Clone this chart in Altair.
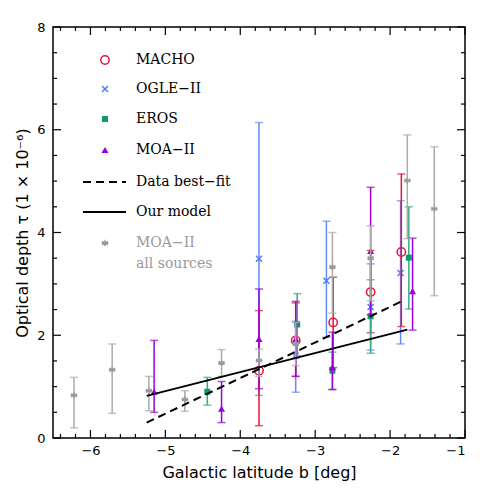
import altair as alt
import pandas as pd
import numpy as np

# ---------------- data ----------------
macho_b = [-3.75, -3.26, -2.76, -2.26, -1.85]
macho_tau = [1.31, 1.90, 2.25, 2.84, 3.62]
macho_lo = [0.24, 1.20, 1.37, 2.05, 2.17]
macho_hi = [2.48, 2.63, 3.13, 3.65, 5.14]

ogle_b = [-3.75, -3.26, -2.85, -2.26, -1.86]
ogle_tau = [3.49, 1.60, 3.06, 2.55, 3.21]
ogle_lo = [0.83, 0.89, 1.96, 1.71, 1.83]
ogle_hi = [6.14, 2.27, 4.22, 3.39, 4.62]

eros_b = [-4.44, -3.24, -2.77, -2.26, -1.75]
eros_tau = [0.90, 2.21, 1.31, 2.37, 3.51]
eros_lo = [0.64, 1.60, 0.95, 1.65, 2.51]
eros_hi = [1.18, 2.81, 1.67, 3.08, 4.50]

moa_b = [-5.15, -4.25, -3.75, -3.26, -2.77, -2.26, -1.70]
moa_tau = [0.90, 0.57, 1.93, 1.93, 1.38, 3.64, 2.86]
moa_lo = [0.50, 0.30, 0.96, 1.20, 0.94, 2.40, 2.10]
moa_hi = [1.90, 1.10, 2.90, 2.66, 2.06, 4.88, 3.89]

all_b = [-6.22, -5.71, -5.22, -4.74, -4.25, -3.75, -3.26, -2.77, -2.26, -1.77, -1.41]
all_tau = [0.83, 1.33, 0.92, 0.75, 1.46, 1.51, 1.83, 3.33, 3.50, 5.01, 4.46]
all_lo = [0.20, 0.48, 0.53, 0.52, 1.20, 1.20, 1.41, 2.43, 2.67, 3.88, 2.77]
all_hi = [1.18, 1.83, 1.20, 0.92, 1.72, 1.73, 2.25, 4.00, 4.13, 5.90, 5.67]

bestfit_b = [-5.25, -1.83]
bestfit_tau = [0.30, 2.67]
model_b = [-5.25, -1.77]
model_tau = [0.82, 2.11]

x_major = [-6, -5, -4, -3, -2, -1]
y_major = [0, 2, 4, 6, 8]

# ---------------- layout ----------------
W, H = 412, 411
xscale = alt.Scale(domain=[-6.5, -1], nice=False, zero=False)
yscale = alt.Scale(domain=[0, 8], nice=False, zero=False)

RED, BLUE, GREEN, PURPLE, GRAY = "#e8143a", "#4f7ef2", "#0f9a6e", "#9a00dc", "#9a9a9a"
BLUE_BAR, GREEN_BAR, GRAY_BAR = "#5f8cf4", "#3aa884", "#ababab"
XPATH = "M-1,-1L1,1M-1,1L1,-1"
STAR = "M0,-1L0,1M-0.87,-0.5L0.87,0.5M-0.87,0.5L0.87,-0.5M-1,0L1,0"

XAXIS = alt.Axis(values=x_major, title="Galactic latitude b [deg]", ticks=False, domain=False,
                 grid=False, labelPadding=6, titlePadding=7, labelFontSize=13,
                 titleFontSize=16, labelFont="DejaVu Sans", titleFont="DejaVu Sans",
                 titleFontWeight="normal", labelColor="black", titleColor="black")
YAXIS = alt.Axis(values=y_major, title="Optical depth  τ  (1 × 10⁻⁶)", ticks=False, domain=False,
                 grid=False, labelPadding=8, titlePadding=6, labelFontSize=13,
                 titleFontSize=16, labelFont="DejaVu Sans", titleFont="DejaVu Sans",
                 titleFontWeight="normal", labelColor="black", titleColor="black")

def X(f="b"):
    return alt.X(f + ":Q", scale=xscale, axis=XAXIS)

def Y(f):
    return alt.Y(f + ":Q", scale=yscale, axis=YAXIS)

def marker(chart, m):
    kind = m["kind"]
    if kind == "circle":
        return chart.mark_point(shape="circle", filled=False, color=m["color"], strokeWidth=1.5, size=70, opacity=1)
    if kind == "x":
        return chart.mark_point(shape=XPATH, filled=False, color=m["color"], strokeWidth=1.5, size=36, opacity=1)
    if kind == "square":
        return chart.mark_point(shape="square", filled=True, color=m["color"], size=36, opacity=1)
    if kind == "tri":
        return chart.mark_point(shape="triangle-up", filled=True, color=m["color"], size=50, opacity=1)
    return chart.mark_point(shape=STAR, filled=False, color=m["color"], strokeWidth=1.3, size=45, opacity=1)

def series(b, tau, lo, hi, bar_color, m):
    df = pd.DataFrame({"b": b, "tau": tau, "lo": lo, "hi": hi})
    base = alt.Chart(df)
    rule = base.mark_rule(color=bar_color, strokeWidth=1.5).encode(x=X(), y=Y("lo"), y2="hi")
    cap1 = base.mark_tick(color=bar_color, orient="horizontal", size=8, thickness=1.5).encode(x=X(), y=Y("lo"))
    cap2 = base.mark_tick(color=bar_color, orient="horizontal", size=8, thickness=1.5).encode(x=X(), y=Y("hi"))
    pt = marker(base, m).encode(x=X(), y=Y("tau"))
    return [rule, cap1, cap2, pt]

layers = []

# axes carrier (labels + titles only)
axdf = pd.DataFrame({"b": [-6.5, -1.0], "tau": [0.0, 8.0]})
layers.append(alt.Chart(axdf).mark_point(opacity=0).encode(x=X(), y=Y("tau")))

# inward ticks on all four sides
xminor = [v for v in np.round(np.arange(-6.4, -1.0, 0.2), 2) if abs(v - round(v)) > 1e-6]
yminor = [v for v in np.arange(0.5, 8.0, 0.5) if v % 2 != 0]
for vals, ln in ((x_major, 8), (xminor, 4)):
    d = alt.Chart(pd.DataFrame({"b": vals}))
    layers.append(d.mark_rule(color="black", strokeWidth=1.2).encode(x=X(), y=alt.value(H), y2=alt.value(H - ln)))
    layers.append(d.mark_rule(color="black", strokeWidth=1.2).encode(x=X(), y=alt.value(0), y2=alt.value(ln)))
for vals, ln in ((y_major, 8), (yminor, 4)):
    d = alt.Chart(pd.DataFrame({"tau": vals}))
    layers.append(d.mark_rule(color="black", strokeWidth=1.2).encode(y=Y("tau"), x=alt.value(0), x2=alt.value(ln)))
    layers.append(d.mark_rule(color="black", strokeWidth=1.2).encode(y=Y("tau"), x=alt.value(W), x2=alt.value(W - ln)))

# data series
layers += series(ogle_b, ogle_tau, ogle_lo, ogle_hi, BLUE_BAR, {"kind": "x", "color": BLUE})
layers += series(macho_b, macho_tau, macho_lo, macho_hi, RED, {"kind": "circle", "color": RED})
layers += series(eros_b, eros_tau, eros_lo, eros_hi, GREEN_BAR, {"kind": "square", "color": GREEN})
layers += series(moa_b, moa_tau, moa_lo, moa_hi, PURPLE, {"kind": "tri", "color": PURPLE})
layers += series(all_b, all_tau, all_lo, all_hi, GRAY_BAR, {"kind": "star", "color": GRAY})

# fit lines
layers.append(alt.Chart(pd.DataFrame({"b": bestfit_b, "tau": bestfit_tau})).mark_line(
    color="black", strokeWidth=2, strokeDash=[8, 5]).encode(x=X(), y=Y("tau")))
layers.append(alt.Chart(pd.DataFrame({"b": model_b, "tau": model_tau})).mark_line(
    color="black", strokeWidth=2).encode(x=X(), y=Y("tau")))

# legend (drawn inside the plot)
one = alt.Chart(pd.DataFrame({"a": [0]}))
SX, TX = 52, 83
entries = [
    ("MACHO", 33, {"kind": "circle", "color": RED}, "black"),
    ("OGLE−II", 62, {"kind": "x", "color": BLUE}, "black"),
    ("EROS", 92, {"kind": "square", "color": GREEN}, "black"),
    ("MOA−II", 123, {"kind": "tri", "color": PURPLE}, "black"),
    ("MOA−II", 216, {"kind": "star", "color": GRAY}, GRAY),
]
for label, yy, m, tc in entries:
    layers.append(marker(one, m).encode(x=alt.value(SX), y=alt.value(yy)))
    layers.append(one.mark_text(text=label, align="left", baseline="middle", font="DejaVu Serif",
                                fontSize=14, color=tc).encode(x=alt.value(TX), y=alt.value(yy)))
layers.append(one.mark_text(text="all sources", align="left", baseline="middle", font="DejaVu Serif",
                            fontSize=14, color=GRAY).encode(x=alt.value(TX), y=alt.value(237)))
layers.append(one.mark_rule(color="black", strokeWidth=2, strokeDash=[8, 5]).encode(
    x=alt.value(30), x2=alt.value(73), y=alt.value(155)))
layers.append(one.mark_text(text="Data best−fit", align="left", baseline="middle", font="DejaVu Serif",
                            fontSize=14, color="black").encode(x=alt.value(TX), y=alt.value(155)))
layers.append(one.mark_rule(color="black", strokeWidth=2).encode(
    x=alt.value(30), x2=alt.value(73), y=alt.value(185)))
layers.append(one.mark_text(text="Our model", align="left", baseline="middle", font="DejaVu Serif",
                            fontSize=14, color="black").encode(x=alt.value(TX), y=alt.value(185)))

chart = alt.layer(*layers).properties(
    width=W, height=H,
    autosize=alt.AutoSizeParams(type="none"),
    padding={"left": 45, "top": 19, "right": 10, "bottom": 46},
).configure(
    background="white",
    view=alt.ViewConfig(stroke="black", strokeWidth=1.5),
)

chart.save("out.html", embed_options={"renderer": "svg", "actions": False})
